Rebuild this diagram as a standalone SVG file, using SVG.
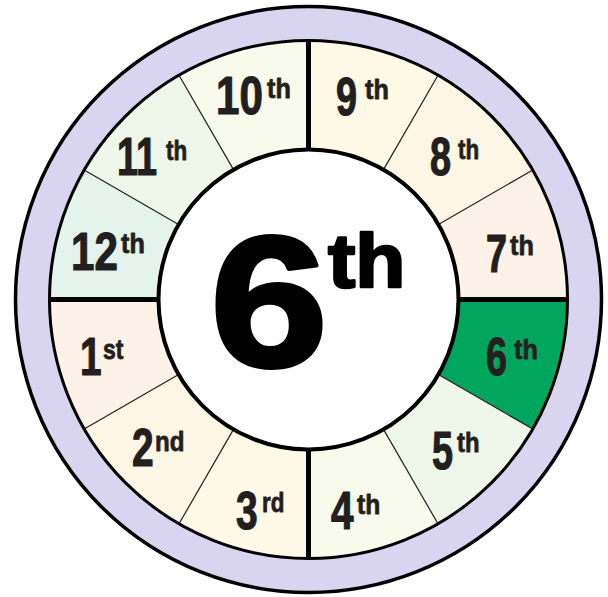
<svg xmlns="http://www.w3.org/2000/svg" width="608" height="597" viewBox="0 0 608 597">
<style>
.ring{stroke:#000;stroke-width:3.5}
.house{stroke:none}
.lbl{font-family:"Liberation Sans",Arial,sans-serif;font-weight:bold;fill:#231f20;stroke:#231f20;stroke-width:1.2;stroke-linejoin:round}
.n{font-size:54px}
.s{font-size:28px;stroke-width:0.8}
.thin{stroke:#231f20;stroke-width:1.2;fill:none}
.thick{stroke:#000;stroke-width:5;fill:none}
.big{font-family:"Liberation Sans",Arial,sans-serif;font-weight:bold;fill:#000;stroke:#000;stroke-linejoin:round}
</style>
<circle cx="308.5" cy="299.5" r="293" fill="#d9d5f1" class="ring"/>
<g id="house7"><path class="house" fill="#fdf2e7" d="M567.5,299.5 A259,259 0 0 0 532.8,170 L438.4,224.5 A150,150 0 0 1 458.5,299.5 Z"/>
<text class="lbl n" transform="translate(486,272) scale(0.7,1)">7</text><text class="lbl s" transform="translate(510,255) scale(0.9,1)">th</text></g>
<g id="house8"><path class="house" fill="#fef6e4" d="M532.8,170 A259,259 0 0 0 438,75.2 L383.5,169.6 A150,150 0 0 1 438.4,224.5 Z"/>
<text class="lbl n" transform="translate(430,175) scale(0.7,1)">8</text><text class="lbl s" transform="translate(458,159) scale(0.8,1)">th</text></g>
<g id="house9"><path class="house" fill="#fef8e7" d="M438,75.2 A259,259 0 0 0 308.5,40.5 L308.5,149.5 A150,150 0 0 1 383.5,169.6 Z"/>
<text class="lbl n" transform="translate(336,115) scale(0.7,1)">9</text><text class="lbl s" transform="translate(365,99) scale(0.9,1)">th</text></g>
<g id="house10"><path class="house" fill="#f8fbeb" d="M308.5,40.5 A259,259 0 0 0 179,75.2 L233.5,169.6 A150,150 0 0 1 308.5,149.5 Z"/>
<text class="lbl n" transform="translate(216,114) scale(0.78,1)">10</text><text class="lbl s" transform="translate(267,98) scale(0.9,1)">th</text></g>
<g id="house11"><path class="house" fill="#eef7ea" d="M179,75.2 A259,259 0 0 0 84.2,170 L178.6,224.5 A150,150 0 0 1 233.5,169.6 Z"/>
<text class="lbl n" transform="translate(117,175) scale(0.7,1)">11</text><text class="lbl s" transform="translate(166,160) scale(0.8,1)">th</text></g>
<g id="house12"><path class="house" fill="#e4f3ec" d="M84.2,170 A259,259 0 0 0 49.5,299.5 L158.5,299.5 A150,150 0 0 1 178.6,224.5 Z"/>
<text class="lbl n" transform="translate(71,270) scale(0.78,1)">12</text><text class="lbl s" transform="translate(121,253) scale(0.9,1)">th</text></g>
<g id="house1"><path class="house" fill="#fdf2e7" d="M49.5,299.5 A259,259 0 0 0 84.2,429 L178.6,374.5 A150,150 0 0 1 158.5,299.5 Z"/>
<text class="lbl n" transform="translate(80,375) scale(0.72,1)">1</text><text class="lbl s" transform="translate(103,359) scale(0.82,1)">st</text></g>
<g id="house2"><path class="house" fill="#fef6e4" d="M84.2,429 A259,259 0 0 0 179,523.8 L233.5,429.4 A150,150 0 0 1 178.6,374.5 Z"/>
<text class="lbl n" transform="translate(132,466) scale(0.72,1)">2</text><text class="lbl s" transform="translate(155,451) scale(0.86,1)">nd</text></g>
<g id="house3"><path class="house" fill="#fef8e7" d="M179,523.8 A259,259 0 0 0 308.5,558.5 L308.5,449.5 A150,150 0 0 1 233.5,429.4 Z"/>
<text class="lbl n" transform="translate(236,529) scale(0.72,1)">3</text><text class="lbl s" transform="translate(262,512) scale(0.8,1)">rd</text></g>
<g id="house4"><path class="house" fill="#f8fbeb" d="M308.5,558.5 A259,259 0 0 0 438,523.8 L383.5,429.4 A150,150 0 0 1 308.5,449.5 Z"/>
<text class="lbl n" transform="translate(331,529) scale(0.75,1)">4</text><text class="lbl s" transform="translate(357,514) scale(0.88,1)">th</text></g>
<g id="house5"><path class="house" fill="#eef7ea" d="M438,523.8 A259,259 0 0 0 532.8,429 L438.4,374.5 A150,150 0 0 1 383.5,429.4 Z"/>
<text class="lbl n" transform="translate(432,469) scale(0.7,1)">5</text><text class="lbl s" transform="translate(457,452) scale(0.85,1)">th</text></g>
<g id="house6"><path class="house" fill="#00a65e" d="M532.8,429 A259,259 0 0 0 567.5,299.5 L458.5,299.5 A150,150 0 0 1 438.4,374.5 Z"/>
<text class="lbl n" transform="translate(486,375) scale(0.7,1)">6</text><text class="lbl s" transform="translate(514,359) scale(0.9,1)">th</text></g>
<g id="connectors">
<line class="thin" x1="438.4" y1="224.5" x2="532.8" y2="170"/>
<line class="thin" x1="383.5" y1="169.6" x2="438" y2="75.2"/>
<line class="thin" x1="233.5" y1="169.6" x2="179" y2="75.2"/>
<line class="thin" x1="178.6" y1="224.5" x2="84.2" y2="170"/>
<line class="thin" x1="178.6" y1="374.5" x2="84.2" y2="429"/>
<line class="thin" x1="233.5" y1="429.4" x2="179" y2="523.8"/>
<line class="thin" x1="383.5" y1="429.4" x2="438" y2="523.8"/>
<line class="thin" x1="438.4" y1="374.5" x2="532.8" y2="429"/>
<line class="thick" x1="49.5" y1="299.5" x2="158.5" y2="299.5"/>
<line class="thick" x1="458.5" y1="299.5" x2="567.5" y2="299.5"/>
<line class="thick" x1="308.5" y1="40.5" x2="308.5" y2="149.5"/>
<line class="thick" x1="308.5" y1="449.5" x2="308.5" y2="558.5"/>
</g>
<circle cx="308.5" cy="299.5" r="259" fill="none" stroke="#000" stroke-width="3"/>
<g id="center">
<circle cx="308.5" cy="299.5" r="150" fill="#fff" stroke="#000" stroke-width="4"/>
<text class="big" transform="translate(210,366) scale(1.14,1)" font-size="186" stroke-width="4">6</text>
<text class="big" transform="translate(328,287) scale(1.08,1)" font-size="76" stroke-width="2.5">th</text>
</g>
</svg>
